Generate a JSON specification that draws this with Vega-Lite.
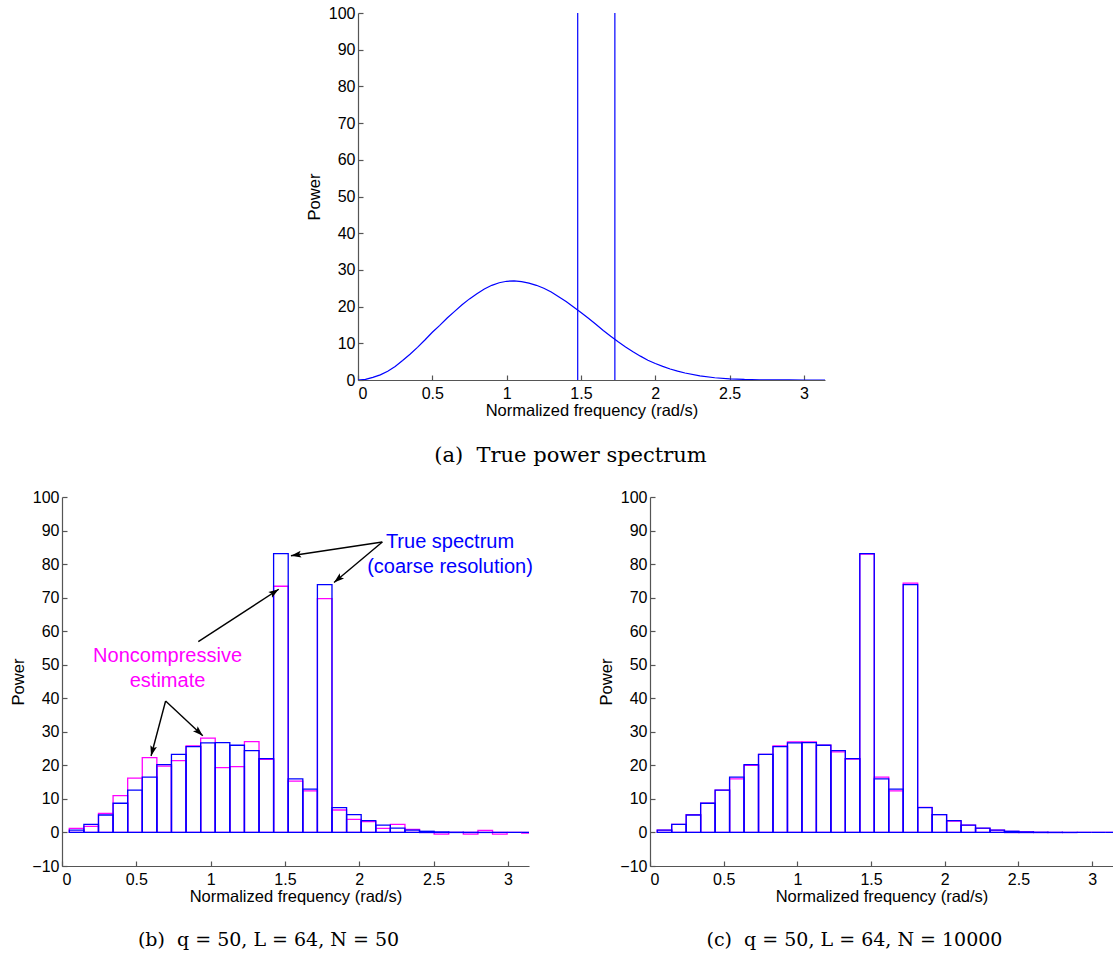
{
  "$schema": "https://vega.github.io/schema/vega-lite/v6.json",
  "background": "white",
  "padding": {"left": 10, "top": 5, "right": 0, "bottom": 0},
  "datasets": {
    "curve": [
      {"f": 0, "p": 0}, {"f": 0.05, "p": 0.15}, {"f": 0.1, "p": 0.7}, {"f": 0.15, "p": 1.4}, {"f": 0.2, "p": 2.4},
      {"f": 0.25, "p": 3.7}, {"f": 0.3, "p": 5.3}, {"f": 0.35, "p": 7.0}, {"f": 0.4, "p": 8.9}, {"f": 0.45, "p": 10.9},
      {"f": 0.5, "p": 13.0}, {"f": 0.55, "p": 14.9}, {"f": 0.6, "p": 16.9}, {"f": 0.65, "p": 18.7}, {"f": 0.7, "p": 20.5},
      {"f": 0.75, "p": 22.1}, {"f": 0.8, "p": 23.5}, {"f": 0.85, "p": 24.8}, {"f": 0.9, "p": 25.8}, {"f": 0.95, "p": 26.5},
      {"f": 1.0, "p": 26.9}, {"f": 1.05, "p": 27.0}, {"f": 1.1, "p": 26.8}, {"f": 1.15, "p": 26.4}, {"f": 1.2, "p": 25.8},
      {"f": 1.25, "p": 25.0}, {"f": 1.3, "p": 24.0}, {"f": 1.35, "p": 22.7}, {"f": 1.4, "p": 21.4}, {"f": 1.45, "p": 19.9},
      {"f": 1.5, "p": 18.4}, {"f": 1.55, "p": 16.8}, {"f": 1.6, "p": 15.2}, {"f": 1.65, "p": 13.5}, {"f": 1.7, "p": 11.9},
      {"f": 1.75, "p": 10.4}, {"f": 1.8, "p": 9.0}, {"f": 1.85, "p": 7.7}, {"f": 1.9, "p": 6.5}, {"f": 1.95, "p": 5.4},
      {"f": 2.0, "p": 4.5}, {"f": 2.05, "p": 3.7}, {"f": 2.1, "p": 3.0}, {"f": 2.15, "p": 2.4}, {"f": 2.2, "p": 1.9},
      {"f": 2.3, "p": 1.1}, {"f": 2.4, "p": 0.62}, {"f": 2.5, "p": 0.32}, {"f": 2.6, "p": 0.15}, {"f": 2.7, "p": 0.07},
      {"f": 2.8, "p": 0.03}, {"f": 2.9, "p": 0.01}, {"f": 3.0, "p": 0}, {"f": 3.1416, "p": 0}
    ],
    "spikes": [{"f": 1.478}, {"f": 1.728}],
    "bins": [
      {"lo": 0.0491, "hi": 0.1473, "truth": 0.7, "est50": 1.2, "est10000": 0.7},
      {"lo": 0.1473, "hi": 0.2454, "truth": 2.4, "est50": 1.8, "est10000": 2.4},
      {"lo": 0.2454, "hi": 0.3436, "truth": 5.2, "est50": 5.7, "est10000": 5.3},
      {"lo": 0.3436, "hi": 0.4418, "truth": 8.7, "est50": 11.0, "est10000": 8.7},
      {"lo": 0.4418, "hi": 0.5400, "truth": 12.6, "est50": 16.2, "est10000": 12.6},
      {"lo": 0.5400, "hi": 0.6381, "truth": 16.5, "est50": 22.3, "est10000": 16.0},
      {"lo": 0.6381, "hi": 0.7363, "truth": 20.2, "est50": 19.8, "est10000": 20.0},
      {"lo": 0.7363, "hi": 0.8345, "truth": 23.3, "est50": 21.4, "est10000": 23.3},
      {"lo": 0.8345, "hi": 0.9327, "truth": 25.6, "est50": 25.8, "est10000": 25.8},
      {"lo": 0.9327, "hi": 1.0308, "truth": 26.7, "est50": 28.1, "est10000": 27.0},
      {"lo": 1.0308, "hi": 1.1290, "truth": 26.8, "est50": 19.3, "est10000": 27.0},
      {"lo": 1.1290, "hi": 1.2272, "truth": 26.0, "est50": 19.6, "est10000": 26.0},
      {"lo": 1.2272, "hi": 1.3254, "truth": 24.4, "est50": 27.1, "est10000": 24.0},
      {"lo": 1.3254, "hi": 1.4235, "truth": 22.0, "est50": 21.8, "est10000": 21.9},
      {"lo": 1.4235, "hi": 1.5217, "truth": 83.1, "est50": 73.4, "est10000": 83.0},
      {"lo": 1.5217, "hi": 1.6199, "truth": 16.0, "est50": 15.3, "est10000": 16.5},
      {"lo": 1.6199, "hi": 1.7181, "truth": 12.9, "est50": 12.4, "est10000": 12.4},
      {"lo": 1.7181, "hi": 1.8162, "truth": 73.9, "est50": 69.7, "est10000": 74.3},
      {"lo": 1.8162, "hi": 1.9144, "truth": 7.4, "est50": 6.7, "est10000": 7.5},
      {"lo": 1.9144, "hi": 2.0126, "truth": 5.3, "est50": 3.9, "est10000": 5.3},
      {"lo": 2.0126, "hi": 2.1108, "truth": 3.5, "est50": 3.2, "est10000": 3.4},
      {"lo": 2.1108, "hi": 2.2089, "truth": 2.2, "est50": 1.2, "est10000": 2.2},
      {"lo": 2.2089, "hi": 2.3071, "truth": 1.3, "est50": 2.4, "est10000": 1.2},
      {"lo": 2.3071, "hi": 2.4053, "truth": 0.7, "est50": 0.9, "est10000": 0.7},
      {"lo": 2.4053, "hi": 2.5035, "truth": 0.35, "est50": 0.1, "est10000": 0.3},
      {"lo": 2.5035, "hi": 2.6016, "truth": 0.15, "est50": -0.5, "est10000": 0.2},
      {"lo": 2.6016, "hi": 2.6998, "truth": 0.06, "est50": 0.0, "est10000": 0.05},
      {"lo": 2.6998, "hi": 2.7980, "truth": 0.03, "est50": -0.5, "est10000": 0.02},
      {"lo": 2.7980, "hi": 2.8962, "truth": 0.01, "est50": 0.6, "est10000": 0.01},
      {"lo": 2.8962, "hi": 2.9943, "truth": 0.0, "est50": -0.5, "est10000": 0.0},
      {"lo": 2.9943, "hi": 3.0925, "truth": 0.0, "est50": 0.0, "est10000": 0.0},
      {"lo": 3.0925, "hi": 3.1907, "truth": 0.0, "est50": -0.2, "est10000": 0.0}
    ],
    "arrows": [
      {"x": 2.155, "y": 86.6, "x2": 1.54, "y2": 82.5},
      {"x": 2.155, "y": 86.6, "x2": 1.83, "y2": 74.5},
      {"x": 0.917, "y": 56.9, "x2": 1.458, "y2": 72.5},
      {"x": 0.697, "y": 39.2, "x2": 0.599, "y2": 22.8},
      {"x": 0.697, "y": 39.2, "x2": 0.947, "y2": 28.8}
    ],
    "notes": [
      {"x": 2.61, "y": 86.6, "label": "True spectrum", "kind": "true"},
      {"x": 2.61, "y": 79.1, "label": "(coarse resolution)", "kind": "true"},
      {"x": 0.71, "y": 52.7, "label": "Noncompressive", "kind": "est"},
      {"x": 0.71, "y": 45.2, "label": "estimate", "kind": "est"}
    ]
  },
  "config": {
    "view": {"stroke": null},
    "axis": {
      "grid": false,
      "domainColor": "#555555",
      "tickColor": "#555555",
      "domainWidth": 1.2,
      "tickWidth": 1.2,
      "tickSize": -5,
      "labelColor": "#000000",
      "titleColor": "#000000",
      "labelFont": "Liberation Sans",
      "titleFont": "Liberation Sans",
      "labelFontSize": 16,
      "titleFontSize": 16.5,
      "titleFontWeight": "normal",
      "labelOverlap": false
    },
    "axisX": {"labelPadding": 10, "titleY": 30, "titleBaseline": "middle"},
    "axisY": {"labelPadding": 8, "titleX": -44, "titleBaseline": "middle", "titleAngle": 270, "labelOverlap": false},
    "title": {"font": "DejaVu Serif", "fontSize": 19, "fontWeight": "normal", "color": "#000000", "orient": "bottom", "anchor": "middle", "frame": "group", "dx": -27, "offset": 26}
  },
  "spacing": 23,
  "vconcat": [
    {
      "spacing": 0,
      "hconcat": [
        {"width": 244, "height": 10, "data": {"values": [{"v": 0}]}, "mark": {"type": "point", "opacity": 0}, "encoding": {}},
        {
          "width": 467,
          "height": 367,
          "title": {"text": "(a)\u00a0 True power spectrum", "fontSize": 21, "dx": -21},
          "layer": [
            {
              "data": {"name": "curve"},
              "mark": {"type": "line", "color": "#0000ff", "strokeWidth": 1.2, "clip": true},
              "encoding": {
                "x": {"field": "f", "type": "quantitative", "scale": {"domain": [0, 3.14159], "nice": false, "zero": false},
                      "axis": {"values": [0, 0.5, 1, 1.5, 2, 2.5, 3], "format": "~g", "title": "Normalized frequency (rad/s)"}},
                "y": {"field": "p", "type": "quantitative", "scale": {"domain": [0, 100], "nice": false},
                      "axis": {"values": [0, 10, 20, 30, 40, 50, 60, 70, 80, 90, 100], "title": "Power"}}
              }
            },
            {
              "data": {"name": "spikes"},
              "mark": {"type": "rule", "color": "#0000ff", "strokeWidth": 1.2},
              "encoding": {"x": {"field": "f", "type": "quantitative"}}
            }
          ]
        }
      ]
    },
    {
      "spacing": 65,
      "hconcat": [
        {
          "width": 467,
          "height": 369,
          "title": {"text": "(b)\u00a0 q = 50, L = 64, N = 50"},
          "resolve": {"axis": {"x": "independent", "y": "independent"}},
          "layer": [
            {
              "data": {"name": "bins"},
              "mark": {"type": "rect", "fill": "transparent", "stroke": "#ff00ff", "strokeWidth": 1.3, "clip": true},
              "encoding": {
                "x": {"field": "lo", "type": "quantitative", "scale": {"domain": [0, 3.14159], "nice": false, "zero": false},
                      "axis": {"values": [0, 0.5, 1, 1.5, 2, 2.5, 3], "format": "~g", "title": "Normalized frequency (rad/s)"}},
                "x2": {"field": "hi"},
                "y": {"field": "est50", "type": "quantitative", "scale": {"domain": [-10, 100], "nice": false, "zero": false},
                      "axis": {"values": [-10, 0, 10, 20, 30, 40, 50, 60, 70, 80, 90, 100], "title": "Power", "labelOverlap": false}},
                "y2": {"datum": 0}
              }
            },
            {
              "data": {"name": "bins"},
              "mark": {"type": "rect", "fill": "transparent", "stroke": "#0000ff", "strokeWidth": 1.3, "clip": true},
              "encoding": {
                "x": {"field": "lo", "type": "quantitative", "axis": null},
                "x2": {"field": "hi"},
                "y": {"field": "truth", "type": "quantitative", "axis": null},
                "y2": {"datum": 0}
              }
            },
            {
              "data": {"name": "arrows"},
              "mark": {"type": "rule", "color": "#000000", "strokeWidth": 1.4},
              "encoding": {
                "x": {"field": "x", "type": "quantitative", "axis": null},
                "y": {"field": "y", "type": "quantitative", "axis": null},
                "x2": {"field": "x2"},
                "y2": {"field": "y2"}
              }
            },
            {
              "data": {"name": "arrows"},
              "transform": [{"calculate": "atan2((datum.x2 - datum.x) * 148.65, (datum.y2 - datum.y) * 3.355) * 180 / PI", "as": "ang"}],
              "mark": {"type": "point", "shape": "M0,0L-0.33,1L0,0.8L0.33,1Z", "filled": true, "color": "#000000", "size": 420, "opacity": 1, "strokeWidth": 0},
              "encoding": {
                "x": {"field": "x2", "type": "quantitative", "axis": null},
                "y": {"field": "y2", "type": "quantitative", "axis": null},
                "angle": {"field": "ang", "type": "quantitative", "scale": null}
              }
            },
            {
              "data": {"name": "notes"},
              "mark": {"type": "text", "font": "Liberation Sans", "fontSize": 20, "align": "center", "baseline": "middle"},
              "encoding": {
                "x": {"field": "x", "type": "quantitative", "axis": null},
                "y": {"field": "y", "type": "quantitative", "axis": null},
                "text": {"field": "label"},
                "color": {"field": "kind", "type": "nominal", "scale": {"domain": ["true", "est"], "range": ["#0000ff", "#ff00ff"]}, "legend": null}
              }
            }
          ]
        },
        {
          "width": 463,
          "height": 369,
          "title": {"text": "(c)\u00a0 q = 50, L = 64, N = 10000"},
          "resolve": {"axis": {"x": "independent", "y": "independent"}},
          "layer": [
            {
              "data": {"name": "bins"},
              "mark": {"type": "rect", "fill": "transparent", "stroke": "#ff00ff", "strokeWidth": 1.3, "clip": true},
              "encoding": {
                "x": {"field": "lo", "type": "quantitative", "scale": {"domain": [0, 3.14159], "nice": false, "zero": false},
                      "axis": {"values": [0, 0.5, 1, 1.5, 2, 2.5, 3], "format": "~g", "title": "Normalized frequency (rad/s)"}},
                "x2": {"field": "hi"},
                "y": {"field": "est10000", "type": "quantitative", "scale": {"domain": [-10, 100], "nice": false, "zero": false},
                      "axis": {"values": [-10, 0, 10, 20, 30, 40, 50, 60, 70, 80, 90, 100], "title": "Power", "labelOverlap": false}},
                "y2": {"datum": 0}
              }
            },
            {
              "data": {"name": "bins"},
              "mark": {"type": "rect", "fill": "transparent", "stroke": "#0000ff", "strokeWidth": 1.3, "clip": true},
              "encoding": {
                "x": {"field": "lo", "type": "quantitative", "axis": null},
                "x2": {"field": "hi"},
                "y": {"field": "truth", "type": "quantitative", "axis": null},
                "y2": {"datum": 0}
              }
            }
          ]
        }
      ]
    }
  ]
}
